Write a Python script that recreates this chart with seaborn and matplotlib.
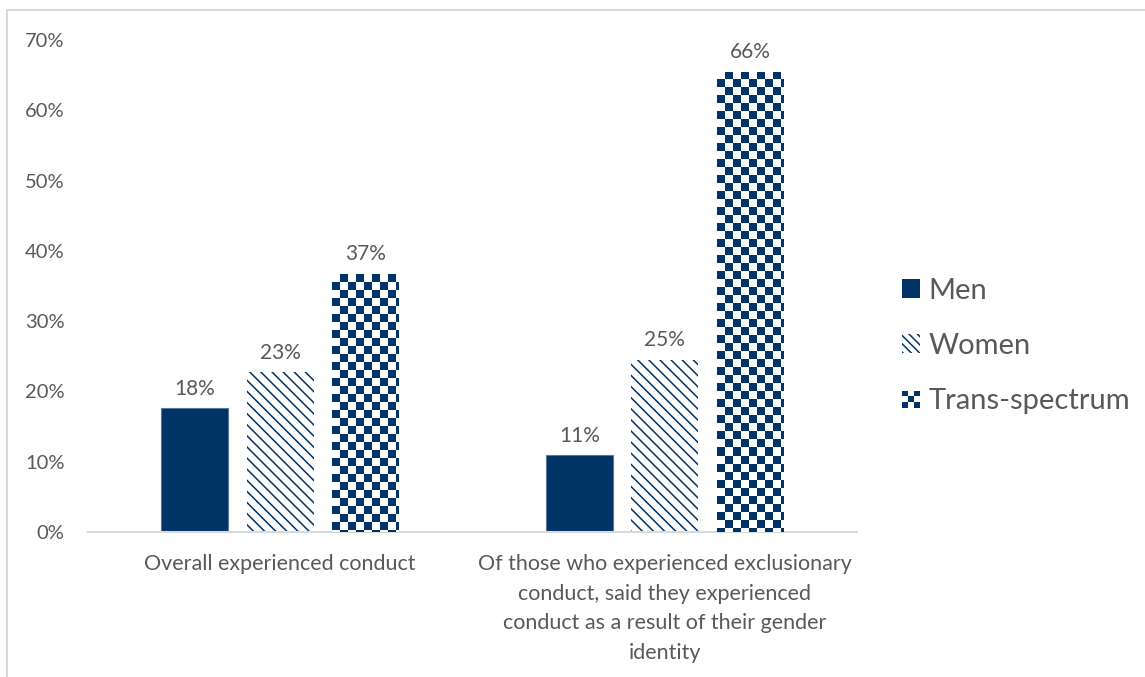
import numpy as np
import pandas as pd
import matplotlib
matplotlib.use("Agg")
import matplotlib.pyplot as plt
import seaborn as sns
from matplotlib.colors import ListedColormap
from matplotlib.patches import Rectangle
from matplotlib.legend_handler import HandlerBase

categories = [
    "Overall experienced conduct",
    "Of those who experienced exclusionary\nconduct, said they experienced\nconduct as a result of their gender\nidentity",
]
groups = ["Men", "Women", "Trans-spectrum"]
men = [0.176, 0.109]
women = [0.227, 0.245]
trans = [0.367, 0.655]
labels_men = ["18%", "11%"]
labels_women = ["23%", "25%"]
labels_trans = ["37%", "66%"]
yticks = [0, 0.1, 0.2, 0.3, 0.4, 0.5, 0.6, 0.7]
ytick_labels = ["0%", "10%", "20%", "30%", "40%", "50%", "60%", "70%"]

NAVY = "#003366"
TEXT = "#595959"
GRID = "#D9D9D9"

sns.set_theme(style="white")
plt.rcParams["font.family"] = ["Lato", "DejaVu Sans"]
plt.rcParams["hatch.linewidth"] = 1.1

df = pd.DataFrame({
    "category": categories * 3,
    "group": [g for g in groups for _ in categories],
    "value": men + women + trans,
})

fig = plt.figure(figsize=(11.45, 6.77), dpi=100)
ax = fig.add_axes([88 / 1145, 1 - 532 / 677, (857 - 88) / 1145, (532 - 40) / 677])

sns.barplot(data=df, x="category", y="value", hue="group", hue_order=groups,
            palette=[NAVY, NAVY, NAVY], width=0.667, gap=0.22, ax=ax,
            legend=False, errorbar=None, saturation=1)

ax.set_ylim(0, 0.7)
ax.set_xlim(-0.5, 1.5)

c_men, c_women, c_trans = ax.containers[0], ax.containers[1], ax.containers[2]
for p in c_men:
    p.set_facecolor(NAVY)
    p.set_edgecolor("#5A7896")
    p.set_linewidth(0.8)
for p in c_women:
    p.set_facecolor("white")
    p.set_edgecolor(NAVY)
    p.set_hatch("\\\\\\")
    p.set_linewidth(0)
checker_cmap = ListedColormap(["white", NAVY])
cell_px = 8.0
for p in c_trans:
    p.set_facecolor("white")
    p.set_edgecolor("none")
    p.set_linewidth(0)
    x0, y0 = p.get_x(), p.get_y()
    w, h = p.get_width(), p.get_height()
    (px0, py0) = ax.transData.transform((x0, y0))
    (px1, py1) = ax.transData.transform((x0 + w, y0 + h))
    ncols = int(np.ceil((px1 - px0) / cell_px))
    nrows = int(np.ceil((py1 - py0) / cell_px))
    dx = cell_px * w / (px1 - px0)
    dy = cell_px * h / (py1 - py0)
    arr = (np.add.outer(np.arange(nrows), np.arange(ncols)) % 2).astype(float)
    im = ax.imshow(arr, cmap=checker_cmap, interpolation="nearest", aspect="auto",
                   origin="upper", vmin=0, vmax=1,
                   extent=[x0, x0 + ncols * dx, y0 + h - nrows * dy, y0 + h], zorder=3)
    im.set_clip_path(p)

ax.set_ylim(0, 0.7)
ax.set_xlim(-0.5, 1.5)

for cont, labs in [(c_men, labels_men), (c_women, labels_women), (c_trans, labels_trans)]:
    ax.bar_label(cont, labels=labs, padding=7, fontsize=15, color=TEXT)

ax.set_yticks(yticks)
ax.set_yticklabels(ytick_labels)
ax.tick_params(axis="y", length=0, pad=17, labelsize=14.5, labelcolor=TEXT)
ax.tick_params(axis="x", length=0, pad=16, labelsize=15.5, labelcolor=TEXT)
for lab in ax.get_xticklabels():
    lab.set_linespacing(1.6)
ax.set_xlabel("")
ax.set_ylabel("")
for s in ["top", "right", "left"]:
    ax.spines[s].set_visible(False)
ax.spines["bottom"].set_color(GRID)
ax.spines["bottom"].set_linewidth(1.5)


class CheckerHandler(HandlerBase):
    def create_artists(self, legend, orig_handle, xdescent, ydescent, width, height, fontsize, trans):
        n = 3
        size = min(width, height)
        cell = size / n
        arts = []
        for i in range(n):
            for j in range(n):
                c = NAVY if (i + j) % 2 == 0 else "white"
                arts.append(Rectangle((-xdescent + i * cell, -ydescent + j * cell), cell, cell,
                                      facecolor=c, edgecolor="none", transform=trans))
        return arts


h_men = Rectangle((0, 0), 1, 1, facecolor=NAVY, edgecolor="none")
h_women = Rectangle((0, 0), 1, 1, facecolor="white", edgecolor=NAVY, hatch="\\\\\\\\", linewidth=0)
h_trans = Rectangle((0, 0), 1, 1, facecolor="white", edgecolor="none")

leg = fig.legend([h_men, h_women, h_trans], groups, loc="center left",
                 bbox_to_anchor=(902 / 1145, 1 - 346 / 677), frameon=False,
                 fontsize=21, handlelength=0.6, handleheight=0.6,
                 handletextpad=0.3, labelspacing=1.0, borderpad=0, borderaxespad=0,
                 handler_map={h_trans: CheckerHandler()})
for t in leg.get_texts():
    t.set_color(TEXT)

fig.patches.append(Rectangle((7 / 1145, -0.05), 1.1, 1 - 10 / 677 + 0.05,
                             transform=fig.transFigure, fill=False,
                             edgecolor=GRID, linewidth=1.5, zorder=0))

fig.savefig("out.png", dpi=100)
